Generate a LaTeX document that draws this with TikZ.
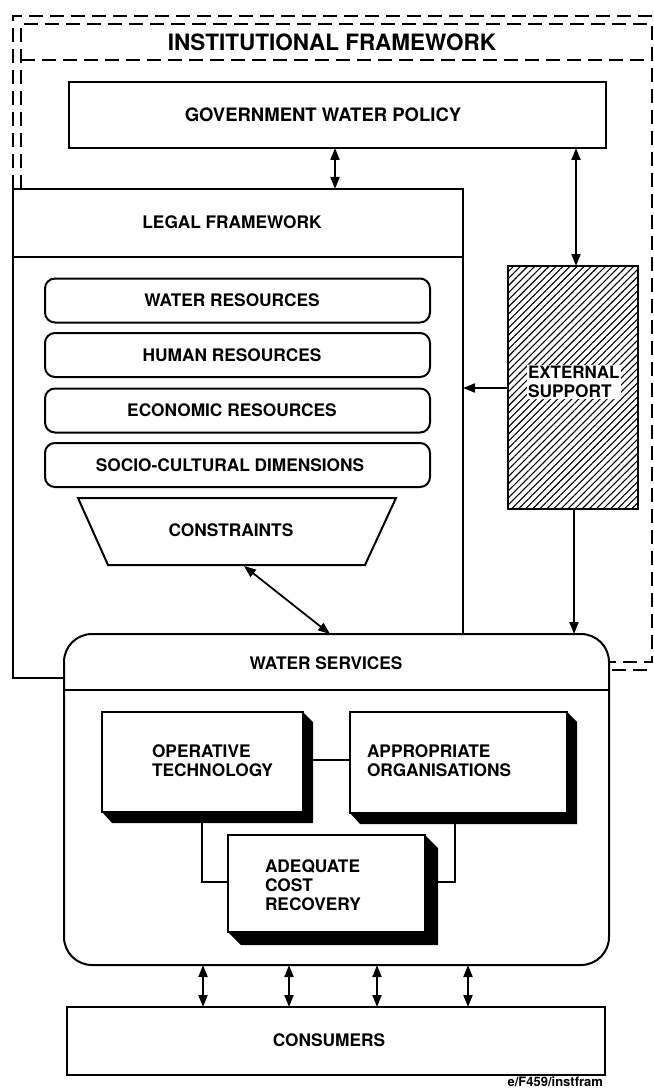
\documentclass[tikz,border=0pt]{standalone}
\usepackage{fontspec}
\setmainfont{TeX Gyre Heros}
\usetikzlibrary{arrows.meta,patterns.meta}
\begin{document}
\begin{tikzpicture}[x=1pt,y=-1pt,
  every node/.style={font=\bfseries\fontsize{17.3}{19}\selectfont, inner sep=0pt, outer sep=0pt},
  box/.style={draw, line width=2pt},
  rbox/.style={draw, line width=2pt, rounded corners=10pt, minimum width=385pt, minimum height=44pt},
  frame/.style={line width=2pt, dash pattern=on 14pt off 7pt},
  link/.style={line width=1.8pt},
  arr/.style={link, -{Triangle[length=12pt,width=9pt]}},
  darr/.style={link, {Triangle[length=12pt,width=9pt]}-{Triangle[length=12pt,width=9pt]}},
  shade/.style={fill=black},
  sbox/.style={draw, line width=2pt, fill=white},
  multi/.style={align=left, anchor=west},
]
\useasboundingbox (0,0) rectangle (653,1091);
\clip (0,0) rectangle (653,1091);

% institutional framework (dashed double border)
\draw[frame] (13,189) -- (13,16) -- (662,16) -- (662,670) -- (609,670);
\draw[frame] (21,189) -- (21,24) -- (652,24) -- (652,662) -- (609,662);
\draw[frame] (21,60) -- (652,60);
\node (title) at (332,42) {\fontsize{22.5}{26}\selectfont INSTITUTIONAL FRAMEWORK};

% government water policy
\node[box, minimum width=537pt, minimum height=66pt] (gwp) at (337.5,115) {};
\node (gwpl) at (323,115) {\fontsize{18.5}{20}\selectfont GOVERNMENT WATER POLICY};

% legal framework
\node[box, minimum width=450pt, minimum height=489pt] (legal) at (238,433.5) {};
\draw[box] (13,257) -- (463,257);
\node (legall) at (232,222) {LEGAL FRAMEWORK};

\node[rbox] (wr) at (237.5,300.5) {};
\node (wrl) at (232,300.5) {WATER RESOURCES};
\node[rbox] (hr) at (237.5,355) {};
\node (hrl) at (232,355) {HUMAN RESOURCES};
\node[rbox] (er) at (237.5,410.5) {};
\node (erl) at (232,410.5) {ECONOMIC RESOURCES};
\node[rbox] (sc) at (237.5,465) {};
\node (scl) at (230,465) {SOCIO-CULTURAL DIMENSIONS};

% constraints
\draw[box, line join=miter] (78,498) -- (396,498) -- (365,565) -- (108,565) -- cycle;
\node (cons) at (231,530) {CONSTRAINTS};

% external support
\node[box, pattern={Lines[angle=45,distance=5pt,line width=1.1pt]}, minimum width=130pt, minimum height=243pt] (ext) at (573,387.5) {};
\node[multi, fill=white, inner sep=1pt] (extl) at (527,382) {\fontsize{17}{20}\selectfont EXTERNAL\\SUPPORT};

% water services
\node[box, fill=white, rounded corners=28pt, minimum width=545pt, minimum height=331pt] (ws) at (336.5,799.5) {};
\draw[box] (64,690) -- (609,690);
\node (wsl) at (326,663) {WATER SERVICES};

% connectors inside water services
\coordinate (opB) at (202,812);
\coordinate (acrL) at (228,882);
\coordinate (apB) at (455,813);
\coordinate (acrR) at (438,882);
\draw[link] (opB) |- (acrL);
\draw[link] (apB) |- (acrR);
\coordinate (opR) at (303,760);
\coordinate (apL) at (350,760);
\draw[link] (opR) -- (apL);

% operative technology
\fill[shade] (102,812) -- (112,823) -- (313,823) -- (313,722) -- (303,712) -- cycle;
\node[sbox, minimum width=201pt, minimum height=100pt] (op) at (202.5,762) {};
\node[multi] (opl) at (152,761) {OPERATIVE\\TECHNOLOGY};

% appropriate organisations
\fill[shade] (350,813) -- (360,824) -- (577,824) -- (577,722) -- (567,712) -- cycle;
\node[sbox, minimum width=217pt, minimum height=101pt] (ap) at (458.5,762.5) {};
\node[multi] (apl) at (367,761) {APPROPRIATE\\ORGANISATIONS};

% adequate cost recovery
\fill[shade] (228,932) -- (241,945) -- (438,945) -- (438,848) -- (425,835) -- cycle;
\node[sbox, minimum width=197pt, minimum height=97pt] (acr) at (326.5,883.5) {};
\node[multi] (acrl) at (265,885) {\fontsize{17.3}{22}\selectfont ADEQUATE\\COST\\RECOVERY};

% consumers
\node[box, minimum width=538pt, minimum height=68pt] (cons2) at (336,1041) {};
\node (consl) at (329,1040) {CONSUMERS};
\node[anchor=east] (ref) at (603,1082) {\fontsize{13}{15}\selectfont e/F459/instfram};

% arrows
\coordinate (g1) at (335,148);
\coordinate (l1) at (335,189);
\draw[darr] (g1) -- (l1);
\coordinate (g2) at (576,148);
\coordinate (e1) at (576,266);
\draw[darr] (g2) -- (e1);
\coordinate (e2) at (508,388);
\coordinate (l2) at (463,388);
\draw[arr] (e2) -- (l2);
\coordinate (e3) at (574,509);
\coordinate (w1) at (574,634);
\draw[arr] (e3) -- (w1);
\coordinate (c1) at (244,566);
\coordinate (w2) at (330,634);
\draw[darr] (c1) -- (w2);

\foreach \i/\x in {1/203,2/289,3/377,4/468}{
  \coordinate (wsb\i) at (\x,965);
  \coordinate (cst\i) at (\x,1007);
  \draw[darr] (wsb\i) -- (cst\i);
}
\end{tikzpicture}
\end{document}
